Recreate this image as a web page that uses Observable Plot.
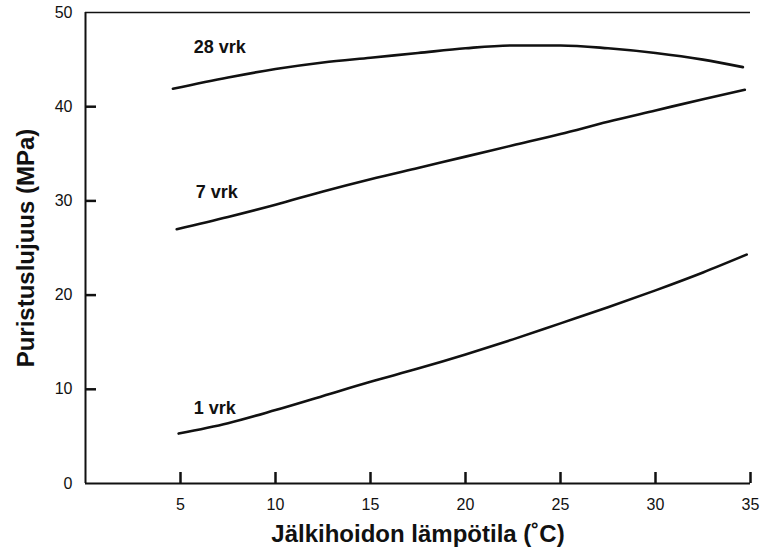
<!DOCTYPE html>
<html>
<head>
<meta charset="utf-8">
<script src="https://cdn.jsdelivr.net/npm/d3@7"></script>
<script src="https://cdn.jsdelivr.net/npm/@observablehq/plot@0.6"></script>
<style>
  html, body { margin: 0; padding: 0; background: #fff; }
</style>
</head>
<body>
<div id="chart"></div>
<script>
// Data
const temps28 = [4.6, 7.5, 10, 12.5, 15, 17.5, 20, 22.5, 25, 27.5, 30, 32.5, 34.6];
const strength28 = [41.9, 43.1, 44.0, 44.7, 45.2, 45.7, 46.2, 46.5, 46.5, 46.2, 45.7, 45.0, 44.2];
const temps7 = [4.8, 7.5, 10, 12.5, 15, 17.5, 20, 22.5, 25, 27.5, 30, 32.5, 34.7];
const strength7  = [27.0, 28.3, 29.6, 31.0, 32.3, 33.5, 34.7, 35.9, 37.1, 38.4, 39.6, 40.8, 41.8];
const temps1 = [4.9, 7.5, 10, 12.5, 15, 17.5, 20, 22.5, 25, 27.5, 30, 32.5, 34.8];
const strength1  = [5.3, 6.4, 7.8, 9.3, 10.8, 12.2, 13.7, 15.3, 17.0, 18.7, 20.5, 22.4, 24.3];

const seriesNames = ["28 vrk", "7 vrk", "1 vrk"];
const labelX = [5.7, 5.8, 5.7];
const labelY = [46.3, 30.9, 8.0];

const xTicks = [5, 10, 15, 20, 25, 30, 35];
const yTicks = [0, 10, 20, 30, 40, 50];
const xLabel = "Jälkihoidon lämpötila (˚C)";
const yLabel = "Puristuslujuus (MPa)";

const seriesTemps = [temps28, temps7, temps1];
const seriesValues = [strength28, strength7, strength1];
const rows = seriesNames.flatMap((name, i) =>
  seriesTemps[i].map((t, j) => ({series: name, t, v: seriesValues[i][j]}))
);
const labels = seriesNames.map((name, i) => ({name, x: labelX[i], y: labelY[i]}));
const xTickRows = xTicks.map(v => ({v}));
const yTickRows = yTicks.slice(1, -1).map(v => ({v}));

const W = 761, H = 548, ML = 85, MR = 11, MT = 12, MB = 65;
const xDomain = [0, 35], yDomain = [0, 50];

const ink = "#111";
const font = "'Liberation Sans', Arial, Helvetica, sans-serif";

const chart = Plot.plot({
  width: W,
  height: H,
  marginLeft: ML,
  marginRight: MR,
  marginTop: MT,
  marginBottom: MB,
  style: {fontFamily: font, background: "#fff", color: ink},
  x: {domain: xDomain},
  y: {domain: yDomain},
  marks: [
    // frame: left, bottom, top
    Plot.ruleX([0], {stroke: ink, strokeWidth: 2}),
    Plot.ruleY([0], {stroke: ink, strokeWidth: 2}),
    Plot.ruleY([50], {stroke: ink, strokeWidth: 1.6}),
    // inward ticks as short rules extended with negative insets
    Plot.ruleY(yTickRows, {y: "v", x1: 0, x2: 0, insetRight: -11, stroke: ink, strokeWidth: 2.5}),
    Plot.ruleX(xTickRows, {x: "v", y1: 0, y2: 0, insetTop: -11, stroke: ink, strokeWidth: 2.5}),
    // tick labels
    Plot.axisY({ticks: yTicks, tickSize: 0, tickPadding: 13, fontSize: 16, label: null, tickFormat: d => String(d)}),
    Plot.axisX({ticks: xTicks, tickSize: 0, tickPadding: 15, fontSize: 16, label: null, tickFormat: d => String(d)}),
    // curves
    Plot.line(rows, {x: "t", y: "v", z: "series", curve: "monotone-x", stroke: ink, strokeWidth: 2.6}),
    // curve labels
    Plot.text(labels, {x: "x", y: "y", text: "name", textAnchor: "start", fontSize: 18, fontWeight: "bold", fill: ink}),
    // axis titles
    Plot.text([xLabel], {frameAnchor: "bottom", textAnchor: "middle", dy: 58, fontSize: 24, fontWeight: "bold", fill: ink}),
    Plot.text([yLabel], {frameAnchor: "left", textAnchor: "middle", dx: -59, rotate: -90, fontSize: 24, fontWeight: "bold", fill: ink})
  ]
});
document.getElementById("chart").appendChild(chart);
</script>
</body>
</html>
